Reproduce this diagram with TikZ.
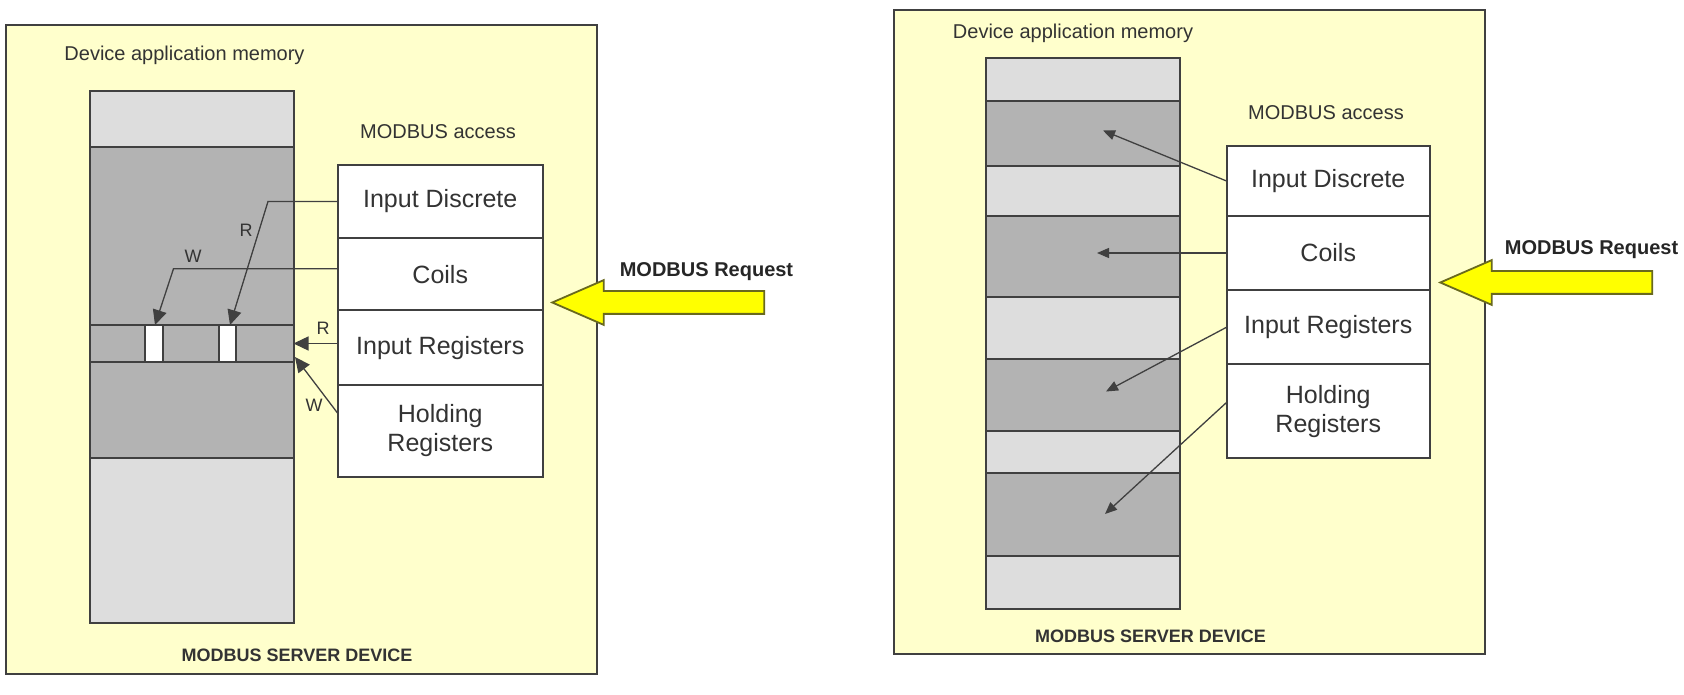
\documentclass[tikz,border=0pt]{standalone}
\usepackage{fontspec}
\setmainfont{Liberation Sans}
\usepackage{tikz}
\usetikzlibrary{arrows.meta, positioning, shapes.arrows}
\definecolor{panelyellow}{RGB}{255,255,204}
\definecolor{bandlight}{RGB}{221,221,221}
\definecolor{banddark}{RGB}{179,179,179}
\definecolor{edgegray}{RGB}{64,64,64}
\definecolor{textgray}{RGB}{51,51,51}
\definecolor{reqyellow}{RGB}{255,255,0}
\definecolor{reqedge}{RGB}{105,105,30}

\begin{document}
\begin{tikzpicture}[x=1pt, y=1pt,
  panel/.style={draw=edgegray, line width=2.5pt, fill=panelyellow},
  band/.style={rectangle, draw=edgegray, line width=2pt, inner sep=0pt, outer sep=0pt},
  lband/.style={band, fill=bandlight},
  dband/.style={band, fill=banddark},
  slot/.style={band, fill=white, minimum width=17.5pt, minimum height=37pt, anchor=north west},
  cell/.style={rectangle, draw=edgegray, line width=2pt, fill=white, inner sep=0pt, outer sep=0pt,
               align=center, text=textgray, font=\fontsize{25}{29}\selectfont},
  title/.style={text=textgray, font=\fontsize{20}{24}\selectfont},
  rwlabel/.style={text=textgray, font=\fontsize{18}{22}\selectfont},
  footer/.style={text=textgray, font=\fontsize{18}{22}\selectfont\bfseries},
  rw/.style={-{Triangle[length=15pt, width=14pt]}, line width=1.3pt, draw=edgegray},
  acc/.style={-{Triangle[length=12pt, width=10pt]}, line width=1.3pt, draw=edgegray},
  reqarrow/.style={single arrow, shape border rotate=180, draw=reqedge, line width=1.8pt, fill=reqyellow,
                   minimum height=212pt, minimum width=43pt, single arrow head extend=11pt,
                   single arrow tip angle=47, inner xsep=0pt, inner ysep=10.5pt, anchor=tip},
  reqlabel/.style={text=black!85, font=\fontsize{20}{24}\selectfont\bfseries}
]
\path[use as bounding box, fill=white] (0,0) rectangle (1684,694);

% --- Left panel ---
\draw[panel] (6,20) rectangle (597,669);
\node[title] (lmemtitle) at (184.5,639) {Device application memory};

\node[lband, minimum width=203.5pt, minimum height=56pt, anchor=north west] (lm0) at (90,603) {};
\node[dband, minimum width=203.5pt, minimum height=178pt, below=0pt of lm0] (lm1) {};
\node[dband, minimum width=203.5pt, minimum height=37pt, below=0pt of lm1] (strip) {};
\node[dband, minimum width=203.5pt, minimum height=96pt, below=0pt of strip] (lm2) {};
\node[lband, minimum width=203.5pt, minimum height=165pt, below=0pt of lm2] (lm3) {};
\node[slot] (slotw) at (145,369) {};
\node[slot] (slotr) at (218.5,369) {};

\node[title] (laccess) at (438,562) {MODBUS access};
\node[cell, minimum width=205.5pt, minimum height=73pt, anchor=north west] (lid) at (337.5,529) {Input Discrete};
\node[cell, minimum width=205.5pt, minimum height=72.5pt, below=0pt of lid] (lcoils) {Coils};
\node[cell, minimum width=205.5pt, minimum height=74.5pt, below=0pt of lcoils] (lir) {Input Registers};
\node[cell, minimum width=205.5pt, minimum height=92pt, below=0pt of lir] (lhr) {Holding\\Registers};

% read / write paths
\coordinate (rtip) at (230,369);
\coordinate (wtip) at (155,369);
\coordinate (hrtip) at (295,337);
\draw[rw] (lid.west) -- ++(-69.5,0) -- (rtip);
\draw[rw] ([yshift=5.5pt]lcoils.west) -- ++(-164,0) -- (wtip);
\draw[rw] (strip.east -| lir.west) -- (strip.east);
\draw[rw] ([yshift=18pt]lhr.west) -- (hrtip);
\node[rwlabel] (lr1) at (246,464) {R};
\node[rwlabel] (lw1) at (193,438) {W};
\node[rwlabel] (lr2) at (323,366) {R};
\node[rwlabel] (lw2) at (314,289) {W};

\node[reqarrow] (lreq) at (550,391.5) {};
\node[reqlabel] (lreqtext) at (706.5,422) {MODBUS Request};
\node[footer] (lfoot) at (297,39) {MODBUS SERVER DEVICE};

% --- Right panel ---
\draw[panel] (894,40) rectangle (1485,684);
\node[title] (rmemtitle) at (1073,661) {Device application memory};

\node[lband, minimum width=194pt, minimum height=43pt, anchor=north west] (rm0) at (986,636) {};
\node[dband, minimum width=194pt, minimum height=65.5pt, below=0pt of rm0] (rm1) {};
\node[lband, minimum width=194pt, minimum height=49.5pt, below=0pt of rm1] (rm2) {};
\node[dband, minimum width=194pt, minimum height=81pt, below=0pt of rm2] (rm3) {};
\node[lband, minimum width=194pt, minimum height=62pt, below=0pt of rm3] (rm4) {};
\node[dband, minimum width=194pt, minimum height=72pt, below=0pt of rm4] (rm5) {};
\node[lband, minimum width=194pt, minimum height=42pt, below=0pt of rm5] (rm6) {};
\node[dband, minimum width=194pt, minimum height=83pt, below=0pt of rm6] (rm7) {};
\node[lband, minimum width=194pt, minimum height=53pt, below=0pt of rm7] (rm8) {};

\node[title] (raccess) at (1326,581) {MODBUS access};
\node[cell, minimum width=203.5pt, minimum height=70pt, anchor=north west] (rid) at (1226.5,548) {Input Discrete};
\node[cell, minimum width=203.5pt, minimum height=74pt, below=0pt of rid] (rcoils) {Coils};
\node[cell, minimum width=203.5pt, minimum height=74.5pt, below=0pt of rcoils] (rir) {Input Registers};
\node[cell, minimum width=203.5pt, minimum height=94pt, below=0pt of rir] (rhr) {Holding\\Registers};

% one area per table
\coordinate (idtarget) at (1103,563.5);
\coordinate (coiltarget) at (1097,441);
\coordinate (irtarget) at (1106,302.5);
\coordinate (hrtarget) at (1105,180);
\draw[acc] (rid.west) -- (idtarget);
\draw[acc] (rcoils.west) -- (coiltarget);
\draw[acc] (rir.west) -- (irtarget);
\draw[acc] ([yshift=9pt]rhr.west) -- (hrtarget);

\node[reqarrow] (rreq) at (1438,411.5) {};
\node[reqlabel] (rreqtext) at (1591.5,444) {MODBUS Request};
\node[footer] (rfoot) at (1150.5,58) {MODBUS SERVER DEVICE};

\end{tikzpicture}
\end{document}
